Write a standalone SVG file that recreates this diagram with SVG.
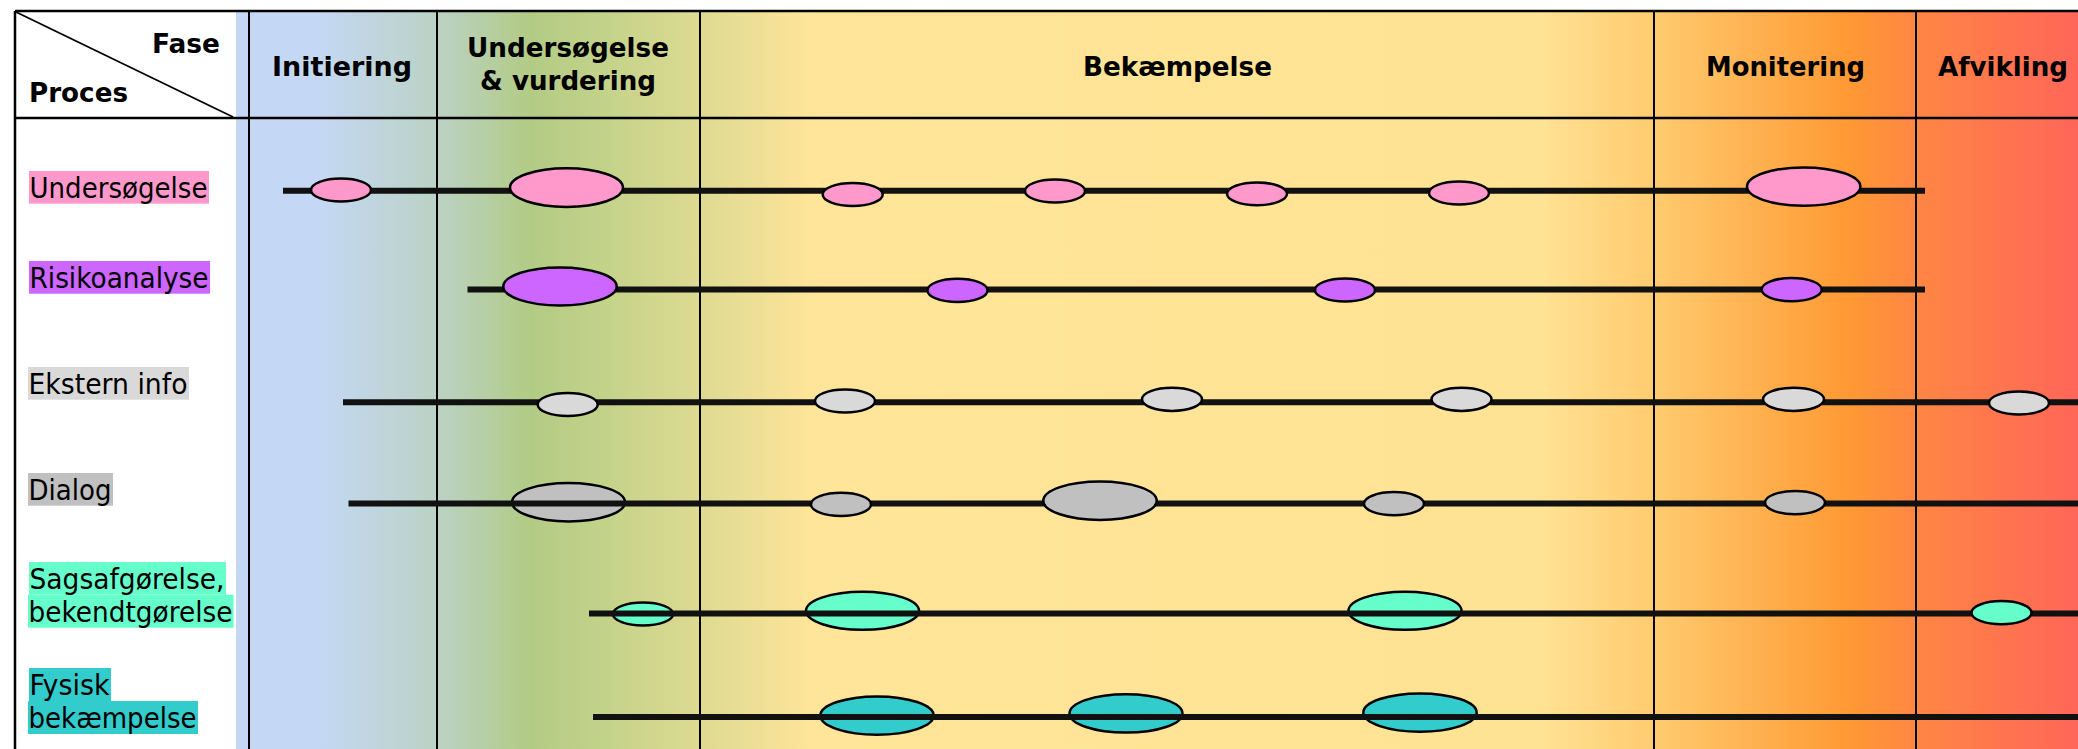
<svg xmlns="http://www.w3.org/2000/svg" width="2078" height="749" viewBox="0 0 2078 749">
<defs>
<linearGradient id="bg" gradientUnits="userSpaceOnUse" x1="236" y1="0" x2="2078" y2="0">
<stop offset="0" stop-color="#C4D8F6"/>
<stop offset="0.043" stop-color="#C4D8F5"/>
<stop offset="0.109" stop-color="#BBD2C5"/>
<stop offset="0.16" stop-color="#B2CB84"/>
<stop offset="0.203" stop-color="#C5D38A"/>
<stop offset="0.252" stop-color="#DEDA92"/>
<stop offset="0.315" stop-color="#FFE599"/>
<stop offset="0.708" stop-color="#FFE394"/>
<stop offset="0.77" stop-color="#FFCB6F"/>
<stop offset="0.876" stop-color="#FF9933"/>
<stop offset="0.912" stop-color="#FF8644"/>
<stop offset="1" stop-color="#FF6658"/>
</linearGradient>
<style>
.hdr{font-family:"DejaVu Sans","Liberation Sans",sans-serif;font-weight:bold;font-size:27px;fill:#000}
.lbl{font-family:"DejaVu Sans","Liberation Sans",sans-serif;font-size:27.5px;fill:#000}
.grid{stroke:#000;stroke-width:2;fill:none}
.border{stroke:#000;stroke-width:2.5;fill:none}
.tl{stroke:#111;stroke-width:6;fill:none}
.el{stroke:#000;stroke-width:2.5}
.pink{fill:#FF99CC}
.purple{fill:#CC66FF}
.lgray{fill:#D9D9D9}
.gray{fill:#C0C0C0}
.mint{fill:#66FFCC}
.teal{fill:#33CCCC}
</style>
</defs>
<rect x="0" y="0" width="2078" height="749" fill="#FFFFFF"/>
<g id="table">
<rect x="236" y="11" width="1842" height="738" fill="url(#bg)"/>
<line class="border" x1="15" y1="11" x2="2078" y2="11"/>
<line class="border" x1="15" y1="118" x2="2078" y2="118"/>
<line class="border" x1="15" y1="11" x2="15" y2="749"/>
<line class="grid" x1="249" y1="11" x2="249" y2="749"/>
<line class="grid" x1="437" y1="11" x2="437" y2="749"/>
<line class="grid" x1="700" y1="11" x2="700" y2="749"/>
<line class="grid" x1="1654" y1="11" x2="1654" y2="749"/>
<line class="grid" x1="1916" y1="11" x2="1916" y2="749"/>
<line x1="16" y1="12" x2="233" y2="117" stroke="#000" stroke-width="1.8"/>
</g>
<g id="header">
<text class="hdr" x="152" y="53" textLength="68" lengthAdjust="spacingAndGlyphs">Fase</text>
<text class="hdr" x="29" y="102" textLength="99" lengthAdjust="spacingAndGlyphs">Proces</text>
<text class="hdr" x="272" y="76" textLength="140" lengthAdjust="spacingAndGlyphs">Initiering</text>
<text class="hdr" x="467" y="57" textLength="202" lengthAdjust="spacingAndGlyphs">Undersøgelse</text>
<text class="hdr" x="480" y="90" textLength="176" lengthAdjust="spacingAndGlyphs">&amp; vurdering</text>
<text class="hdr" x="1083" y="76" textLength="189" lengthAdjust="spacingAndGlyphs">Bekæmpelse</text>
<text class="hdr" x="1706" y="76" textLength="159" lengthAdjust="spacingAndGlyphs">Monitering</text>
<text class="hdr" x="1938" y="76" textLength="130" lengthAdjust="spacingAndGlyphs">Afvikling</text>
</g>
<g id="under-line-ellipses">
<ellipse class="el gray" cx="568.5" cy="502.2" rx="56.5" ry="19.2"/>
<ellipse class="el mint" cx="643" cy="614" rx="30" ry="11.6"/>
<ellipse class="el mint" cx="862.5" cy="610.8" rx="56.5" ry="19"/>
<ellipse class="el mint" cx="1405" cy="610.8" rx="56.5" ry="19"/>
<ellipse class="el teal" cx="877" cy="715.6" rx="56.7" ry="19.2"/>
<ellipse class="el teal" cx="1126" cy="713.4" rx="56.5" ry="19.2"/>
<ellipse class="el teal" cx="1420" cy="712.6" rx="56.7" ry="19.2"/>
</g>
<g id="connectors">
<line class="tl" x1="283" y1="190.8" x2="1925" y2="190.8"/>
<line class="tl" x1="467.5" y1="289.6" x2="1925" y2="289.6"/>
<line class="tl" x1="343" y1="402.3" x2="2078" y2="402.3"/>
<line class="tl" x1="348.5" y1="503.4" x2="2078" y2="503.4"/>
<line class="tl" x1="589" y1="613.4" x2="2078" y2="613.4"/>
<line class="tl" x1="593" y1="717.1" x2="2078" y2="717.1"/>
</g>
<g id="row-undersoegelse">
<rect x="29" y="171" width="180" height="32.7" fill="#FF99CC"/>
<text class="lbl" x="29.5" y="198" textLength="178" lengthAdjust="spacingAndGlyphs">Undersøgelse</text>
<ellipse class="el pink" cx="341" cy="190" rx="30" ry="11.6"/>
<ellipse class="el pink" cx="566.5" cy="187.6" rx="56.5" ry="19.3"/>
<ellipse class="el pink" cx="852.7" cy="194.5" rx="30" ry="11.4"/>
<ellipse class="el pink" cx="1055" cy="191" rx="30" ry="11.6"/>
<ellipse class="el pink" cx="1257" cy="193.8" rx="30" ry="11.4"/>
<ellipse class="el pink" cx="1459" cy="193" rx="30" ry="11.4"/>
<ellipse class="el pink" cx="1803.7" cy="186.6" rx="56.7" ry="19.2"/>
</g>
<g id="row-risikoanalyse">
<rect x="29" y="261" width="181" height="32.7" fill="#CC66FF"/>
<text class="lbl" x="29.5" y="288" textLength="179" lengthAdjust="spacingAndGlyphs">Risikoanalyse</text>
<ellipse class="el purple" cx="560" cy="286.4" rx="56.7" ry="19"/>
<ellipse class="el purple" cx="957.5" cy="290.4" rx="30" ry="11.6"/>
<ellipse class="el purple" cx="1345" cy="290" rx="30" ry="11.6"/>
<ellipse class="el purple" cx="1791.7" cy="289.6" rx="30" ry="11.6"/>
</g>
<g id="row-ekstern-info">
<rect x="28" y="367" width="161" height="32.7" fill="#D9D9D9"/>
<text class="lbl" x="28.5" y="394" textLength="159" lengthAdjust="spacingAndGlyphs">Ekstern info</text>
<ellipse class="el lgray" cx="567.7" cy="404.5" rx="30" ry="11.6"/>
<ellipse class="el lgray" cx="845" cy="401" rx="30" ry="11.6"/>
<ellipse class="el lgray" cx="1172" cy="399.3" rx="30" ry="11.6"/>
<ellipse class="el lgray" cx="1461.5" cy="399.3" rx="30" ry="11.6"/>
<ellipse class="el lgray" cx="1793.5" cy="399.3" rx="30.5" ry="11.6"/>
<ellipse class="el lgray" cx="2019" cy="403" rx="30" ry="11.6"/>
</g>
<g id="row-dialog">
<rect x="28" y="473" width="85" height="32.7" fill="#C0C0C0"/>
<text class="lbl" x="28.5" y="500" textLength="83" lengthAdjust="spacingAndGlyphs">Dialog</text>
<ellipse class="el gray" cx="841" cy="504.4" rx="30" ry="11.6"/>
<ellipse class="el gray" cx="1100" cy="500.7" rx="56.7" ry="19.2"/>
<ellipse class="el gray" cx="1394" cy="503.7" rx="30" ry="11.6"/>
<ellipse class="el gray" cx="1795" cy="502.6" rx="30" ry="11.6"/>
</g>
<g id="row-sagsafgoerelse">
<rect x="29" y="562" width="197" height="32.7" fill="#66FFCC"/>
<rect x="28" y="594.7" width="205.5" height="33" fill="#66FFCC"/>
<text class="lbl" x="29.5" y="589" textLength="195" lengthAdjust="spacingAndGlyphs">Sagsafgørelse,</text>
<text class="lbl" x="28.5" y="621.7" textLength="204" lengthAdjust="spacingAndGlyphs">bekendtgørelse</text>
<ellipse class="el mint" cx="2001.5" cy="612.7" rx="30" ry="11.6"/>
</g>
<g id="row-fysisk-bekaempelse">
<rect x="29" y="668" width="82" height="33" fill="#33CCCC"/>
<rect x="28" y="701" width="170" height="33" fill="#33CCCC"/>
<text class="lbl" x="29.5" y="695" textLength="80" lengthAdjust="spacingAndGlyphs">Fysisk</text>
<text class="lbl" x="28.5" y="728" textLength="168" lengthAdjust="spacingAndGlyphs">bekæmpelse</text>
</g>
</svg>
